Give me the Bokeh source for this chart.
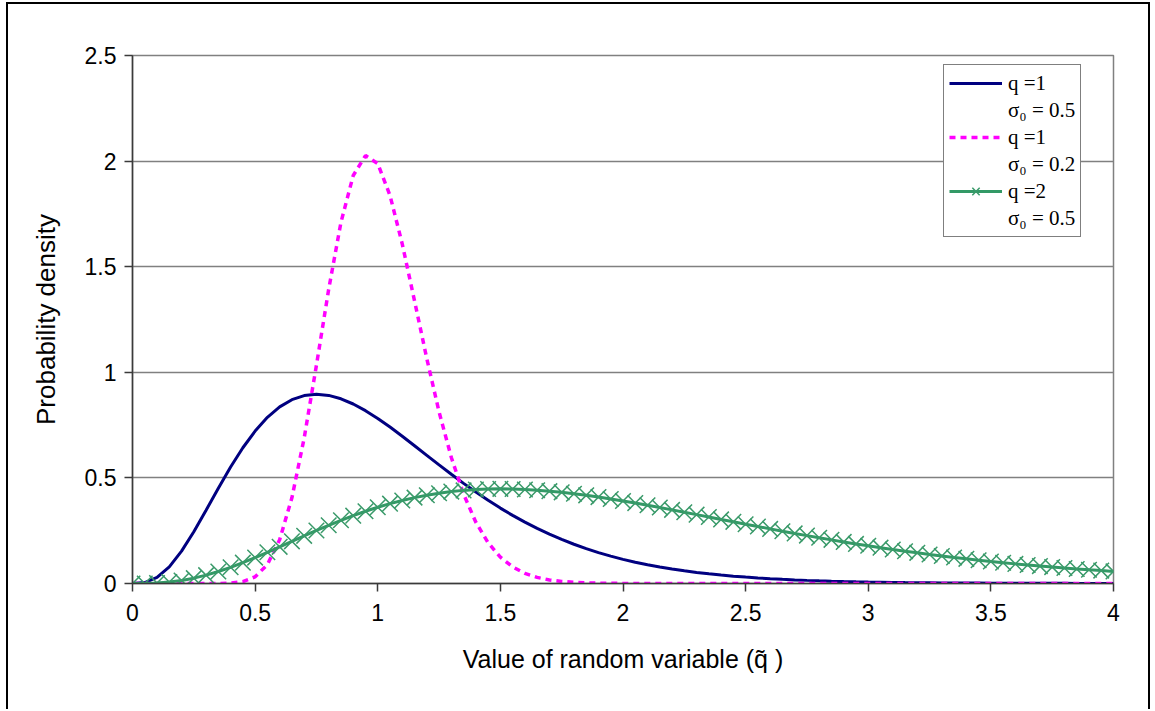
from bokeh.plotting import figure
from bokeh.models import Range1d, FixedTicker, Legend, LegendItem
from bokeh.embed import file_html
from bokeh.resources import INLINE

# ---- data ----
x_vals = [0.00, 0.05, 0.10, 0.15, 0.20, 0.25, 0.30, 0.35, 0.40, 0.45,
          0.50, 0.55, 0.60, 0.65, 0.70, 0.75, 0.80, 0.85, 0.90, 0.95,
          1.00, 1.05, 1.10, 1.15, 1.20, 1.25, 1.30, 1.35, 1.40, 1.45,
          1.50, 1.55, 1.60, 1.65, 1.70, 1.75, 1.80, 1.85, 1.90, 1.95,
          2.00, 2.05, 2.10, 2.15, 2.20, 2.25, 2.30, 2.35, 2.40, 2.45,
          2.50, 2.55, 2.60, 2.65, 2.70, 2.75, 2.80, 2.85, 2.90, 2.95,
          3.00, 3.05, 3.10, 3.15, 3.20, 3.25, 3.30, 3.35, 3.40, 3.45,
          3.50, 3.55, 3.60, 3.65, 3.70, 3.75, 3.80, 3.85, 3.90, 3.95,
          4.00]

# q = 1, sigma0 = 0.5
y_blue = [0.0000, 0.0044, 0.0286, 0.0790, 0.1534, 0.2453, 0.3470, 0.4511, 0.5513, 0.6427,
          0.7218, 0.7866, 0.8361, 0.8703, 0.8899, 0.8962, 0.8905, 0.8745, 0.8499, 0.8184,
          0.7815, 0.7407, 0.6972, 0.6523, 0.6068, 0.5615, 0.5172, 0.4742, 0.4330, 0.3939,
          0.3570, 0.3224, 0.2905, 0.2607, 0.2335, 0.2085, 0.1859, 0.1651, 0.1463, 0.1297,
          0.1143, 0.1010, 0.0889, 0.0781, 0.0685, 0.0600, 0.0525, 0.0458, 0.0399, 0.0348,
          0.0303, 0.0263, 0.0228, 0.0198, 0.0171, 0.0148, 0.0128, 0.0111, 0.0095, 0.0082,
          0.0071, 0.0061, 0.0052, 0.0045, 0.0039, 0.0033, 0.0028, 0.0024, 0.0021, 0.0018,
          0.0015, 0.0013, 0.0011, 0.0009, 0.0008, 0.0007, 0.0006, 0.0005, 0.0004, 0.0004,
          0.0003]

# q = 1, sigma0 = 0.2
y_magenta = [0.0000, 0.0000, 0.0000, 0.0000, 0.0000, 0.0000, 0.0000, 0.0003, 0.0018, 0.0089,
             0.0318, 0.0897, 0.2075, 0.4059, 0.6886, 1.0332, 1.3934, 1.7101, 1.9317, 2.0261,
             1.9881, 1.8371, 1.6072, 1.3383, 1.0648, 0.8126, 0.5968, 0.4230, 0.2901, 0.1930,
             0.1247, 0.0785, 0.0482, 0.0289, 0.0169, 0.0097, 0.0055, 0.0030, 0.0016, 0.0009,
             0.0005, 0.0002, 0.0001, 0.0000, 0.0000, 0.0000, 0.0000, 0.0000, 0.0000, 0.0000,
             0.0000, 0.0000, 0.0000, 0.0000, 0.0000, 0.0000, 0.0000, 0.0000, 0.0000, 0.0000,
             0.0000, 0.0000, 0.0000, 0.0000, 0.0000, 0.0000, 0.0000, 0.0000, 0.0000, 0.0000,
             0.0000, 0.0000, 0.0000, 0.0000, 0.0000, 0.0000, 0.0000, 0.0000, 0.0000, 0.0000,
             0.0000]

# q = 2, sigma0 = 0.5
y_green = [0.0000, 0.0003, 0.0022, 0.0067, 0.0143, 0.0253, 0.0395, 0.0568, 0.0767, 0.0988,
           0.1226, 0.1477, 0.1735, 0.1996, 0.2256, 0.2510, 0.2757, 0.2992, 0.3213, 0.3420,
           0.3609, 0.3780, 0.3933, 0.4066, 0.4180, 0.4275, 0.4352, 0.4409, 0.4450, 0.4473,
           0.4481, 0.4474, 0.4452, 0.4418, 0.4372, 0.4316, 0.4249, 0.4175, 0.4092, 0.4003,
           0.3907, 0.3807, 0.3703, 0.3596, 0.3486, 0.3374, 0.3261, 0.3148, 0.3034, 0.2920,
           0.2808, 0.2696, 0.2586, 0.2477, 0.2371, 0.2267, 0.2165, 0.2066, 0.1969, 0.1875,
           0.1785, 0.1697, 0.1612, 0.1530, 0.1452, 0.1376, 0.1303, 0.1234, 0.1168, 0.1104,
           0.1043, 0.0984, 0.0929, 0.0877, 0.0825, 0.0778, 0.0732, 0.0689, 0.0649, 0.0610,
           0.0572]

x_ticks = [0, 0.5, 1, 1.5, 2, 2.5, 3, 3.5, 4]
x_tick_labels = ["0", "0.5", "1", "1.5", "2", "2.5", "3", "3.5", "4"]
y_ticks = [0, 0.5, 1, 1.5, 2, 2.5]
y_tick_labels = ["0", "0.5", "1", "1.5", "2", "2.5"]

legend_q = ["q =1", "q =1", "q =2"]
legend_sigma = ["\u03c3\u2080 = 0.5", "\u03c3\u2080 = 0.2", "\u03c3\u2080 = 0.5"]

x_title = "Value of random variable (q\u0303 )"
y_title = "Probability density"

# ---- figure ----
p = figure(width=1144, height=707, output_backend="svg", toolbar_location=None,
           x_range=Range1d(0, 4), y_range=Range1d(0, 2.5),
           min_border_left=124, min_border_top=51, min_border_right=39, min_border_bottom=128)
p.background_fill_color = "white"
p.border_fill_color = "white"
p.outline_line_color = "#808080"
p.outline_line_width = 1.5
p.styles = {"border-left": "2px solid black", "border-top": "2px solid black",
            "border-right": "2px solid black", "margin-left": "6px", "margin-top": "2px"}

for ax, ticks, labels in ((p.xaxis[0], x_ticks, x_tick_labels), (p.yaxis[0], y_ticks, y_tick_labels)):
    ax.ticker = FixedTicker(ticks=ticks)
    ax.major_label_overrides = dict(zip(ticks, labels))
    ax.minor_tick_line_color = None
    ax.major_tick_in = 0
    ax.major_tick_out = 8
    ax.axis_line_color = "#3a3a3a"
    ax.axis_line_width = 1.5
    ax.major_tick_line_color = "#3a3a3a"
    ax.major_tick_line_width = 1.5
    ax.major_label_text_font = "Liberation Sans"
    ax.major_label_text_font_size = "23px"
    ax.major_label_text_color = "black"
    ax.axis_label_text_font = "Liberation Sans"
    ax.axis_label_text_font_style = "normal"
    ax.axis_label_text_color = "black"

p.xaxis.axis_label = x_title
p.yaxis.axis_label = y_title
p.xaxis.axis_label_text_font_size = "25px"
p.yaxis.axis_label_text_font_size = "26px"
p.xaxis.major_label_standoff = 12
p.yaxis.major_label_standoff = 8
p.xaxis.axis_label_standoff = 21
p.yaxis.axis_label_standoff = 21

p.xgrid.visible = False
p.ygrid.ticker = FixedTicker(ticks=y_ticks)
p.ygrid.grid_line_color = "#808080"
p.ygrid.grid_line_width = 1.5

r_blue = p.line(x_vals, y_blue, line_color="#000080", line_width=3)
r_mag = p.line(x_vals, y_magenta, line_color="#FF00FF", line_width=3.5, line_dash="6 5")
r_green = p.line(x_vals, y_green, line_color="#339966", line_width=3)
r_gx = p.scatter(x_vals, y_green, marker="x", size=22, line_color="#3A9A6A", line_width=1.5)
r_blank = p.line([], [], line_alpha=0)

items = []
for i, rs in enumerate(([r_blue], [r_mag], [r_green, r_gx])):
    items.append(LegendItem(label=legend_q[i], renderers=rs))
    items.append(LegendItem(label=legend_sigma[i], renderers=[r_blank]))

legend = Legend(items=items, location=(811, 346))
legend.border_line_color = "black"
legend.border_line_width = 1
legend.background_fill_color = "white"
legend.background_fill_alpha = 1
legend.label_text_font = "Liberation Serif"
legend.label_text_font_size = "21px"
legend.label_text_color = "black"
legend.glyph_width = 53
legend.glyph_height = 26
legend.label_height = 26
legend.label_standoff = 6
legend.padding = 5
legend.spacing = 1
legend.margin = 0
p.add_layout(legend)

open("out.html", "w").write(file_html(p, INLINE))
